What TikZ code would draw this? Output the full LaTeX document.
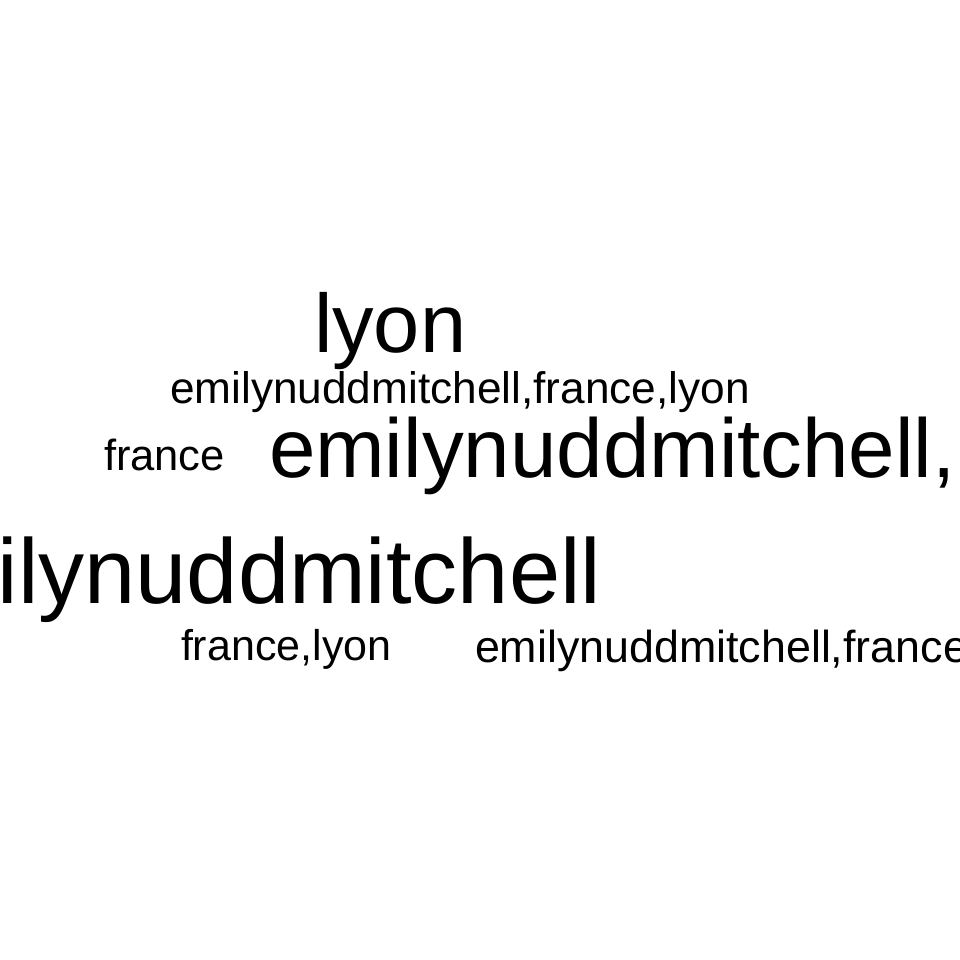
\documentclass[tikz,border=0pt]{standalone}
\usepackage{fontspec}
\setmainfont{Liberation Sans}
\begin{document}
\begin{tikzpicture}[x=1pt,y=-1pt,
  word/.style={anchor=base west,inner sep=0pt,outer sep=0pt,text=black}]
\useasboundingbox (0,0) rectangle (960,960);
\clip (0,0) rectangle (960,960);
\fill[white] (0,0) rectangle (960,960);
\node[word,font=\fontsize{83}{83}\selectfont] (w1) at (314,352) {lyon};
\node[word,font=\fontsize{44.2}{44.2}\selectfont] (w2) at (170,403) {emilynuddmitchell,france,lyon};
\node[word,font=\fontsize{43.5}{43.5}\selectfont] (w3) at (104,470) {france};
\node[word,font=\fontsize{83.5}{83.5}\selectfont] (w4) at (269,477) {emilynuddmitchell,};
\node[word,font=\fontsize{92}{92}\selectfont] (w5) at (-130,603) {emilynuddmitchell};
\node[word,font=\fontsize{43}{43}\selectfont] (w6) at (181,660) {france,lyon};
\node[word,font=\fontsize{44.8}{44.8}\selectfont] (w7) at (475,662) {emilynuddmitchell,france};
\end{tikzpicture}
\end{document}
